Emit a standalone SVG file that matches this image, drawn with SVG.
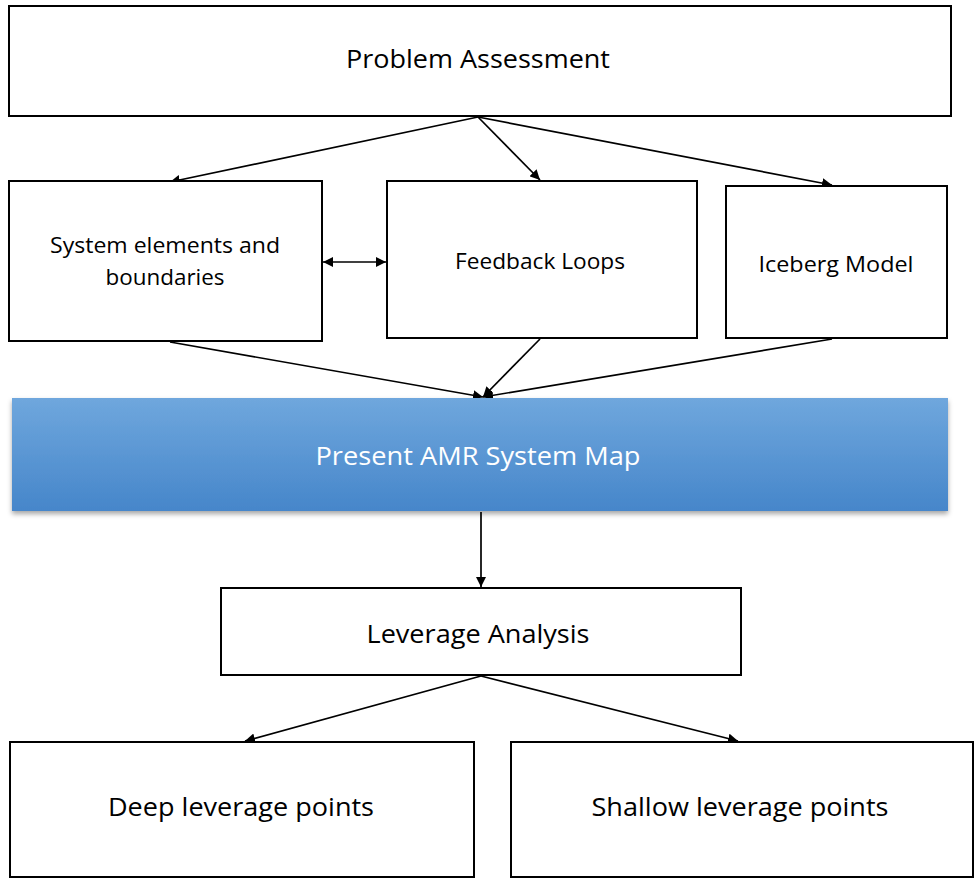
<svg xmlns="http://www.w3.org/2000/svg" width="976" height="885" viewBox="0 0 976 885">
<defs>
<style>
.box{fill:#fff;stroke:#000;stroke-width:2}
.t{font-family:"Open Sans","Liberation Sans",sans-serif;fill:#000;text-anchor:middle;dominant-baseline:central}
.c{stroke:#000;stroke-width:1.7;fill:none}
</style>
<linearGradient id="blue" x1="0" y1="0" x2="0" y2="1">
<stop offset="0" stop-color="#6fa7dd"/>
<stop offset="1" stop-color="#4686ca"/>
</linearGradient>
<filter id="sh" x="-5%" y="-20%" width="110%" height="150%">
<feDropShadow dx="0" dy="3" stdDeviation="2.5" flood-color="#000" flood-opacity="0.35"/>
</filter>
<marker id="ah2" viewBox="0 0 10 10" refX="10" refY="5" markerWidth="10" markerHeight="10" markerUnits="userSpaceOnUse" orient="auto-start-reverse">
<path d="M0,0 L10,5 L0,10 z" fill="#000"/>
</marker>
</defs>
<rect width="976" height="885" fill="#fff"/>
<g id="connectors">
<line class="c" x1="478" y1="117" x2="170" y2="182" marker-end="url(#ah2)"/>
<line class="c" x1="478" y1="117" x2="540" y2="180" marker-end="url(#ah2)"/>
<line class="c" x1="478" y1="117" x2="832" y2="185" marker-end="url(#ah2)"/>
<line class="c" x1="323" y1="262" x2="386" y2="262" marker-start="url(#ah2)" marker-end="url(#ah2)"/>
<line class="c" x1="170" y1="342" x2="483" y2="397" marker-end="url(#ah2)"/>
<line class="c" x1="540" y1="339" x2="483" y2="397" marker-end="url(#ah2)"/>
<line class="c" x1="832" y1="339" x2="483" y2="397" marker-end="url(#ah2)"/>
<line class="c" x1="481" y1="512" x2="481" y2="587" marker-end="url(#ah2)"/>
<line class="c" x1="481" y1="676" x2="245" y2="741" marker-end="url(#ah2)"/>
<line class="c" x1="481" y1="676" x2="738" y2="741" marker-end="url(#ah2)"/>
</g>
<g id="problem-assessment">
<rect class="box" x="9" y="6" width="942" height="110"/>
<text class="t" x="478" y="58" font-size="26" textLength="264" lengthAdjust="spacingAndGlyphs">Problem Assessment</text>
</g>
<g id="system-elements">
<rect class="box" x="9" y="181" width="313" height="160"/>
<text class="t" x="165" y="245" font-size="21" textLength="230" lengthAdjust="spacingAndGlyphs">System elements and</text>
<text class="t" x="165" y="277" font-size="21" textLength="119" lengthAdjust="spacingAndGlyphs">boundaries</text>
</g>
<g id="feedback-loops">
<rect class="box" x="387" y="181" width="310" height="157"/>
<text class="t" x="540" y="261" font-size="21" textLength="170" lengthAdjust="spacingAndGlyphs">Feedback Loops</text>
</g>
<g id="iceberg-model">
<rect class="box" x="726" y="186" width="221" height="152"/>
<text class="t" x="836" y="264" font-size="21" textLength="155" lengthAdjust="spacingAndGlyphs">Iceberg Model</text>
</g>
<g id="system-map">
<rect x="12" y="398" width="936" height="113" fill="url(#blue)" filter="url(#sh)"/>
<text class="t" x="478" y="455" font-size="26" textLength="325" lengthAdjust="spacingAndGlyphs" style="fill:#fff">Present AMR System Map</text>
</g>
<g id="leverage-analysis">
<rect class="box" x="221" y="588" width="520" height="87"/>
<text class="t" x="478" y="633" font-size="26" textLength="223" lengthAdjust="spacingAndGlyphs">Leverage Analysis</text>
</g>
<g id="deep-leverage">
<rect class="box" x="10" y="742" width="464" height="135"/>
<text class="t" x="241" y="806" font-size="26" textLength="266" lengthAdjust="spacingAndGlyphs">Deep leverage points</text>
</g>
<g id="shallow-leverage">
<rect class="box" x="511" y="742" width="462" height="135"/>
<text class="t" x="740" y="806" font-size="26" textLength="297" lengthAdjust="spacingAndGlyphs">Shallow leverage points</text>
</g>
</svg>
